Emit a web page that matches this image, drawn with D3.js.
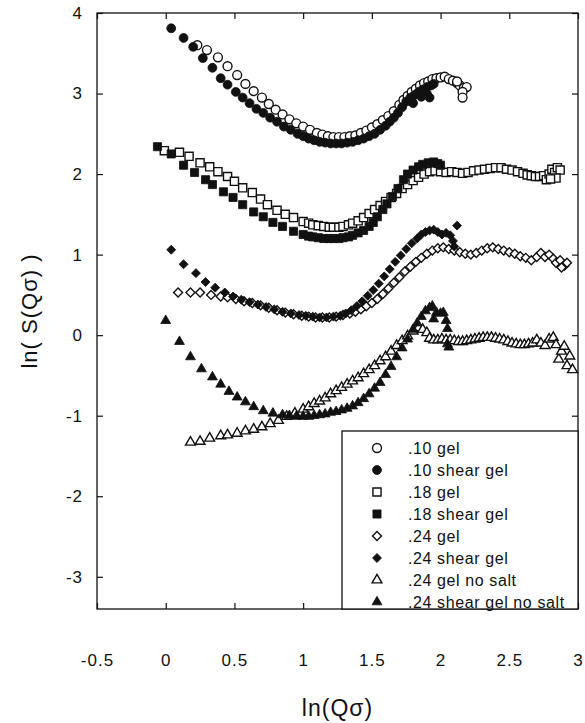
<!DOCTYPE html>
<html>
<head>
<meta charset="utf-8">
<script src="https://cdn.jsdelivr.net/npm/d3@7"></script>
<style>
  body { margin: 0; background: #fff; }
  text { font-family: "Liberation Sans", Arial, Helvetica, sans-serif; fill: #111; }
</style>
</head>
<body>
<div id="chart"></div>
<script>
// ln(S(Q sigma)) vs ln(Q sigma) for gels and sheared gels

// tick values and labels
const xTicks = [-0.5, 0, 0.5, 1, 1.5, 2, 2.5, 3]
const yTicks = [-3, -2, -1, 0, 1, 2, 3, 4]
const seriesNames = [".10 gel", ".10 shear gel", ".18 gel", ".18 shear gel",
  ".24 gel", ".24 shear gel", ".24 gel no salt", ".24 shear gel no salt"]

// data: [ln(Q sigma), ln(S)]
const gel10 = [[0.23,3.60],[0.30,3.54],[0.38,3.45],[0.45,3.34],[0.52,3.23],[0.58,3.12],[0.64,3.03],[0.70,2.95],
  [0.75,2.87],[0.80,2.80],[0.85,2.74],[0.90,2.68],[0.95,2.63],[1.00,2.59],[1.05,2.55],[1.10,2.51],[1.14,2.49],
  [1.18,2.47],[1.22,2.46],[1.26,2.46],[1.30,2.46],[1.34,2.47],[1.38,2.48],[1.42,2.51],[1.46,2.54],[1.50,2.58],
  [1.54,2.62],[1.58,2.67],[1.62,2.72],[1.66,2.78],[1.70,2.86],[1.73,2.92],[1.76,2.97],[1.79,3.02],[1.82,3.06],
  [1.85,3.10],[1.88,3.13],[1.91,3.15],[1.94,3.18],[1.97,3.19],[2.00,3.20],[2.03,3.21],[2.06,3.18],[2.09,3.16],
  [2.12,3.13],[2.14,3.10],[2.17,3.07],[2.19,3.08],[2.16,3.02],[2.16,2.95],[2.12,3.15]]

const shear10 = [[0.04,3.81],[0.13,3.69],[0.20,3.58],[0.27,3.44],[0.34,3.32],[0.40,3.19],[0.45,3.11],[0.51,3.02],
  [0.56,2.95],[0.61,2.88],[0.66,2.81],[0.71,2.76],[0.76,2.70],[0.81,2.65],[0.86,2.59],[0.91,2.55],[0.96,2.50],
  [1.00,2.47],[1.04,2.44],[1.08,2.42],[1.12,2.40],[1.16,2.39],[1.20,2.38],[1.24,2.38],[1.28,2.38],[1.32,2.39],
  [1.36,2.40],[1.40,2.42],[1.44,2.44],[1.48,2.47],[1.52,2.50],[1.56,2.55],[1.60,2.60],[1.63,2.65],[1.66,2.70],
  [1.69,2.76],[1.72,2.83],[1.75,2.90],[1.78,2.95],[1.81,2.98],[1.84,3.02],[1.87,3.05],[1.90,3.08],[1.93,3.10],
  [1.95,3.12],[1.80,2.88],[1.86,2.96],[1.90,3.00],[1.92,2.95]]

const gel18 = [[-0.01,2.29],[0.10,2.27],[0.17,2.22],[0.25,2.14],[0.32,2.09],[0.38,2.03],[0.45,1.97],[0.50,1.91],
  [0.56,1.83],[0.63,1.77],[0.69,1.69],[0.74,1.62],[0.81,1.55],[0.87,1.50],[0.93,1.46],[1.00,1.41],[1.04,1.39],
  [1.07,1.37],[1.11,1.36],[1.15,1.35],[1.19,1.34],[1.22,1.34],[1.26,1.34],[1.29,1.35],[1.33,1.37],[1.36,1.39],
  [1.40,1.42],[1.44,1.46],[1.48,1.51],[1.52,1.56],[1.56,1.61],[1.60,1.66],[1.64,1.71],[1.68,1.76],[1.72,1.82],
  [1.76,1.87],[1.80,1.92],[1.84,1.96],[1.88,2.00],[1.92,2.03],[1.96,2.04],[2.00,2.03],[2.04,2.02],[2.08,2.03],
  [2.12,2.02],[2.16,2.01],[2.20,2.02],[2.24,2.04],[2.28,2.05],[2.32,2.06],[2.36,2.07],[2.40,2.08],[2.44,2.08],
  [2.48,2.06],[2.52,2.05],[2.56,2.03],[2.60,2.01],[2.63,1.99],[2.66,1.98],[2.69,1.97],[2.72,1.97],[2.75,1.98],
  [2.77,1.93],[2.79,2.00],[2.81,2.06],[2.83,2.02],[2.85,2.08],[2.87,2.05],[2.84,1.95],[2.80,1.94]]

const shear18 = [[-0.06,2.34],[0.04,2.25],[0.13,2.11],[0.21,2.02],[0.29,1.93],[0.34,1.87],[0.42,1.78],[0.49,1.71],
  [0.56,1.62],[0.64,1.53],[0.71,1.47],[0.78,1.40],[0.85,1.35],[0.93,1.29],[1.00,1.25],[1.04,1.23],[1.07,1.22],
  [1.11,1.21],[1.15,1.20],[1.19,1.20],[1.22,1.20],[1.26,1.20],[1.29,1.21],[1.33,1.22],[1.36,1.24],[1.40,1.27],
  [1.44,1.30],[1.48,1.35],[1.51,1.40],[1.54,1.47],[1.58,1.56],[1.61,1.63],[1.65,1.72],[1.69,1.82],[1.73,1.93],
  [1.76,2.00],[1.80,2.05],[1.84,2.09],[1.87,2.12],[1.91,2.14],[1.95,2.15],[1.98,2.13],[2.00,2.11]]

const gel24 = [[0.09,0.53],[0.18,0.53],[0.25,0.53],[0.33,0.50],[0.40,0.48],[0.45,0.47],[0.51,0.45],[0.57,0.42],
  [0.63,0.40],[0.69,0.37],[0.75,0.34],[0.81,0.31],[0.87,0.28],[0.93,0.26],[0.99,0.24],[1.04,0.23],[1.09,0.22],
  [1.14,0.22],[1.19,0.22],[1.24,0.23],[1.29,0.25],[1.34,0.27],[1.38,0.29],[1.42,0.32],[1.46,0.36],[1.50,0.40],
  [1.54,0.45],[1.58,0.51],[1.62,0.58],[1.66,0.65],[1.70,0.72],[1.74,0.79],[1.78,0.85],[1.82,0.91],[1.86,0.96],
  [1.90,1.01],[1.94,1.05],[1.98,1.08],[2.02,1.09],[2.06,1.07],[2.10,1.05],[2.14,1.03],[2.18,1.01],[2.22,1.00],
  [2.26,1.02],[2.30,1.05],[2.34,1.08],[2.38,1.09],[2.42,1.07],[2.46,1.05],[2.50,1.03],[2.54,1.01],[2.58,0.98],
  [2.62,0.96],[2.66,0.93],[2.70,0.97],[2.73,1.02],[2.76,0.97],[2.79,1.00],[2.82,0.95],[2.84,0.90],[2.87,0.93],
  [2.90,0.86],[2.92,0.90],[2.88,0.84]]

const shear24 = [[0.04,1.06],[0.13,0.88],[0.22,0.77],[0.29,0.66],[0.36,0.59],[0.43,0.53],[0.49,0.48],[0.55,0.44],
  [0.61,0.41],[0.67,0.38],[0.73,0.35],[0.79,0.32],[0.85,0.29],[0.91,0.27],[0.97,0.25],[1.02,0.24],[1.07,0.23],
  [1.12,0.22],[1.17,0.22],[1.22,0.23],[1.27,0.24],[1.31,0.27],[1.35,0.31],[1.39,0.36],[1.43,0.42],[1.47,0.49],
  [1.51,0.56],[1.55,0.64],[1.59,0.73],[1.63,0.82],[1.67,0.91],[1.71,0.99],[1.75,1.07],[1.79,1.14],[1.83,1.20],
  [1.86,1.25],[1.89,1.28],[1.92,1.30],[1.95,1.31],[1.98,1.28],[2.01,1.25],[2.04,1.27],[2.07,1.24],[2.09,1.17],
  [2.10,1.10],[2.12,1.36]]

const gel24NoSalt = [[0.18,-1.33],[0.25,-1.32],[0.32,-1.28],[0.40,-1.25],[0.45,-1.24],[0.52,-1.22],[0.58,-1.19],
  [0.64,-1.17],[0.70,-1.14],[0.76,-1.10],[0.82,-1.06],[0.88,-1.01],[0.94,-0.97],[1.00,-0.92],[1.04,-0.89],
  [1.08,-0.85],[1.12,-0.82],[1.16,-0.78],[1.20,-0.73],[1.24,-0.69],[1.28,-0.65],[1.32,-0.61],[1.36,-0.57],
  [1.40,-0.53],[1.44,-0.48],[1.48,-0.43],[1.52,-0.38],[1.56,-0.32],[1.60,-0.27],[1.64,-0.20],[1.68,-0.13],
  [1.72,-0.07],[1.76,-0.01],[1.80,0.05],[1.84,0.09],[1.87,0.07],[1.90,0.03],[1.92,-0.04],[1.95,-0.06],
  [1.98,-0.06],[2.01,-0.05],[2.04,-0.06],[2.07,-0.06],[2.10,-0.07],[2.13,-0.08],[2.16,-0.08],[2.19,-0.07],
  [2.22,-0.06],[2.25,-0.05],[2.28,-0.04],[2.31,-0.03],[2.34,-0.03],[2.37,-0.03],[2.40,-0.04],[2.43,-0.05],
  [2.46,-0.06],[2.49,-0.08],[2.52,-0.10],[2.55,-0.11],[2.58,-0.12],[2.61,-0.12],[2.64,-0.11],[2.67,-0.10],
  [2.70,-0.06],[2.73,-0.10],[2.76,-0.13],[2.79,-0.05],[2.82,-0.03],[2.84,-0.12],[2.86,-0.30],[2.88,-0.20],
  [2.90,-0.14],[2.92,-0.38],[2.94,-0.26],[2.96,-0.43]]

const shear24NoSalt = [[0.00,0.18],[0.10,-0.08],[0.18,-0.27],[0.26,-0.42],[0.34,-0.52],[0.40,-0.61],[0.46,-0.70],
  [0.52,-0.77],[0.58,-0.83],[0.64,-0.89],[0.71,-0.94],[0.78,-0.97],[0.85,-0.99],[0.90,-1.00],[0.95,-1.01],
  [1.00,-1.01],[1.04,-1.01],[1.08,-1.00],[1.12,-0.99],[1.16,-0.98],[1.20,-0.96],[1.24,-0.95],[1.28,-0.93],
  [1.32,-0.91],[1.36,-0.88],[1.40,-0.84],[1.44,-0.79],[1.48,-0.73],[1.52,-0.66],[1.56,-0.59],[1.60,-0.49],
  [1.64,-0.39],[1.68,-0.27],[1.72,-0.16],[1.76,-0.05],[1.80,0.07],[1.83,0.15],[1.86,0.23],[1.89,0.30],
  [1.92,0.34],[1.94,0.36],[1.97,0.28],[1.95,0.20],[2.00,0.27],[2.02,0.28],[2.04,0.18],[2.05,0.08],
  [2.05,-0.11],[2.06,-0.15]]

// Set up size
const W = 585, H = 723
const MARGINS = { TOP: 13, BOTTOM: 114, LEFT: 97, RIGHT: 7 }
const INK = "#111"

const svg = d3.select("#chart").append("svg")
    .attr("width", W)
    .attr("height", H)

const x = d3.scaleLinear().domain([-0.5, 3]).range([MARGINS.LEFT, W - MARGINS.RIGHT])
const y = d3.scaleLinear().domain([-3.4, 4]).range([H - MARGINS.BOTTOM, MARGINS.TOP])

// marker shapes
const circle = d3.symbol().type(d3.symbolCircle).size(62)
const square = d3.symbol().type(d3.symbolSquare).size(66)
const diamond = d3.symbol().type(d3.symbolSquare).size(40)
const triangle = d3.symbol().type(d3.symbolTriangle).size(42)

const series = [
  { name: seriesNames[0], data: gel10, shape: circle, open: true },
  { name: seriesNames[1], data: shear10, shape: circle, open: false },
  { name: seriesNames[2], data: gel18, shape: square, open: true },
  { name: seriesNames[3], data: shear18, shape: square, open: false },
  { name: seriesNames[4], data: gel24, shape: diamond, open: true, rot: 45 },
  { name: seriesNames[5], data: shear24, shape: diamond, open: false, rot: 45 },
  { name: seriesNames[6], data: gel24NoSalt, shape: triangle, open: true },
  { name: seriesNames[7], data: shear24NoSalt, shape: triangle, open: false }
]

// Axes with inward ticks on all four sides
const fmt = d => String(d)
const innerH = H - MARGINS.BOTTOM
const innerR = W - MARGINS.RIGHT

const xAxis = svg.append("g")
    .attr("transform", `translate(0, ${innerH})`)
    .call(d3.axisBottom(x).tickValues(xTicks).tickSize(-6).tickPadding(45).tickFormat(fmt))
const xTop = svg.append("g")
    .attr("transform", `translate(0, ${MARGINS.TOP})`)
    .call(d3.axisTop(x).tickValues(xTicks).tickSize(-6).tickFormat(""))
const yAxis = svg.append("g")
    .attr("transform", `translate(${MARGINS.LEFT}, 0)`)
    .call(d3.axisLeft(y).tickValues(yTicks).tickSize(-6).tickPadding(14).tickFormat(fmt))
const yRight = svg.append("g")
    .attr("transform", `translate(${innerR}, 0)`)
    .call(d3.axisRight(y).tickValues(yTicks).tickSize(-6).tickFormat(""))

svg.selectAll(".domain").remove()
svg.selectAll(".tick line").attr("stroke", INK).attr("stroke-width", 1.2)
svg.selectAll(".tick text")
    .attr("font-size", "17px")
    .attr("letter-spacing", "1px")
    .attr("fill", INK)

// frame
svg.append("rect")
    .attr("x", MARGINS.LEFT)
    .attr("y", MARGINS.TOP)
    .attr("width", innerR - MARGINS.LEFT)
    .attr("height", innerH - MARGINS.TOP)
    .attr("fill", "none")
    .attr("stroke", INK)
    .attr("stroke-width", 1.3)

// points
const drawMarks = (sel, s) => {
  sel.attr("d", s.shape)
    .attr("fill", s.open ? "#fff" : INK)
    .attr("stroke", INK)
    .attr("stroke-width", s.open ? 1.4 : 0.8)
}

series.forEach(s => {
  svg.append("g").selectAll("path")
    .data(s.data)
    .join("path")
    .attr("transform", d => `translate(${x(d[0])}, ${y(d[1])})` + (s.rot ? ` rotate(${s.rot})` : ""))
    .call(drawMarks, s)
})

// Legend
const legendBox = { x: 342, y: 431 }
svg.append("rect")
    .attr("x", legendBox.x)
    .attr("y", legendBox.y)
    .attr("width", innerR - legendBox.x)
    .attr("height", innerH - legendBox.y)
    .attr("fill", "#fff")
    .attr("stroke", INK)
    .attr("stroke-width", 1.3)

series.forEach((s, i) => {
  const row = svg.append("g")
      .attr("transform", `translate(${legendBox.x + 35}, ${legendBox.y + 17 + i * 22})`)
  row.append("path")
      .attr("transform", s.rot ? `rotate(${s.rot})` : null)
      .call(drawMarks, s)
  row.append("text")
      .attr("x", 31)
      .attr("y", 6)
      .attr("font-size", "16px")
      .attr("letter-spacing", "0.6px")
      .text(s.name)
})

// Axis titles
svg.append("text")
    .attr("x", (MARGINS.LEFT + innerR) / 2)
    .attr("y", 716)
    .attr("text-anchor", "middle")
    .attr("font-size", "23px")
    .attr("letter-spacing", "1px")
    .text("ln(Qσ)")

svg.append("text")
    .attr("transform", `translate(37, ${y(0.3)}) rotate(-90)`)
    .attr("text-anchor", "middle")
    .attr("font-size", "22px")
    .attr("letter-spacing", "1px")
    .text("ln( S(Qσ) )")
</script>
</body>
</html>
